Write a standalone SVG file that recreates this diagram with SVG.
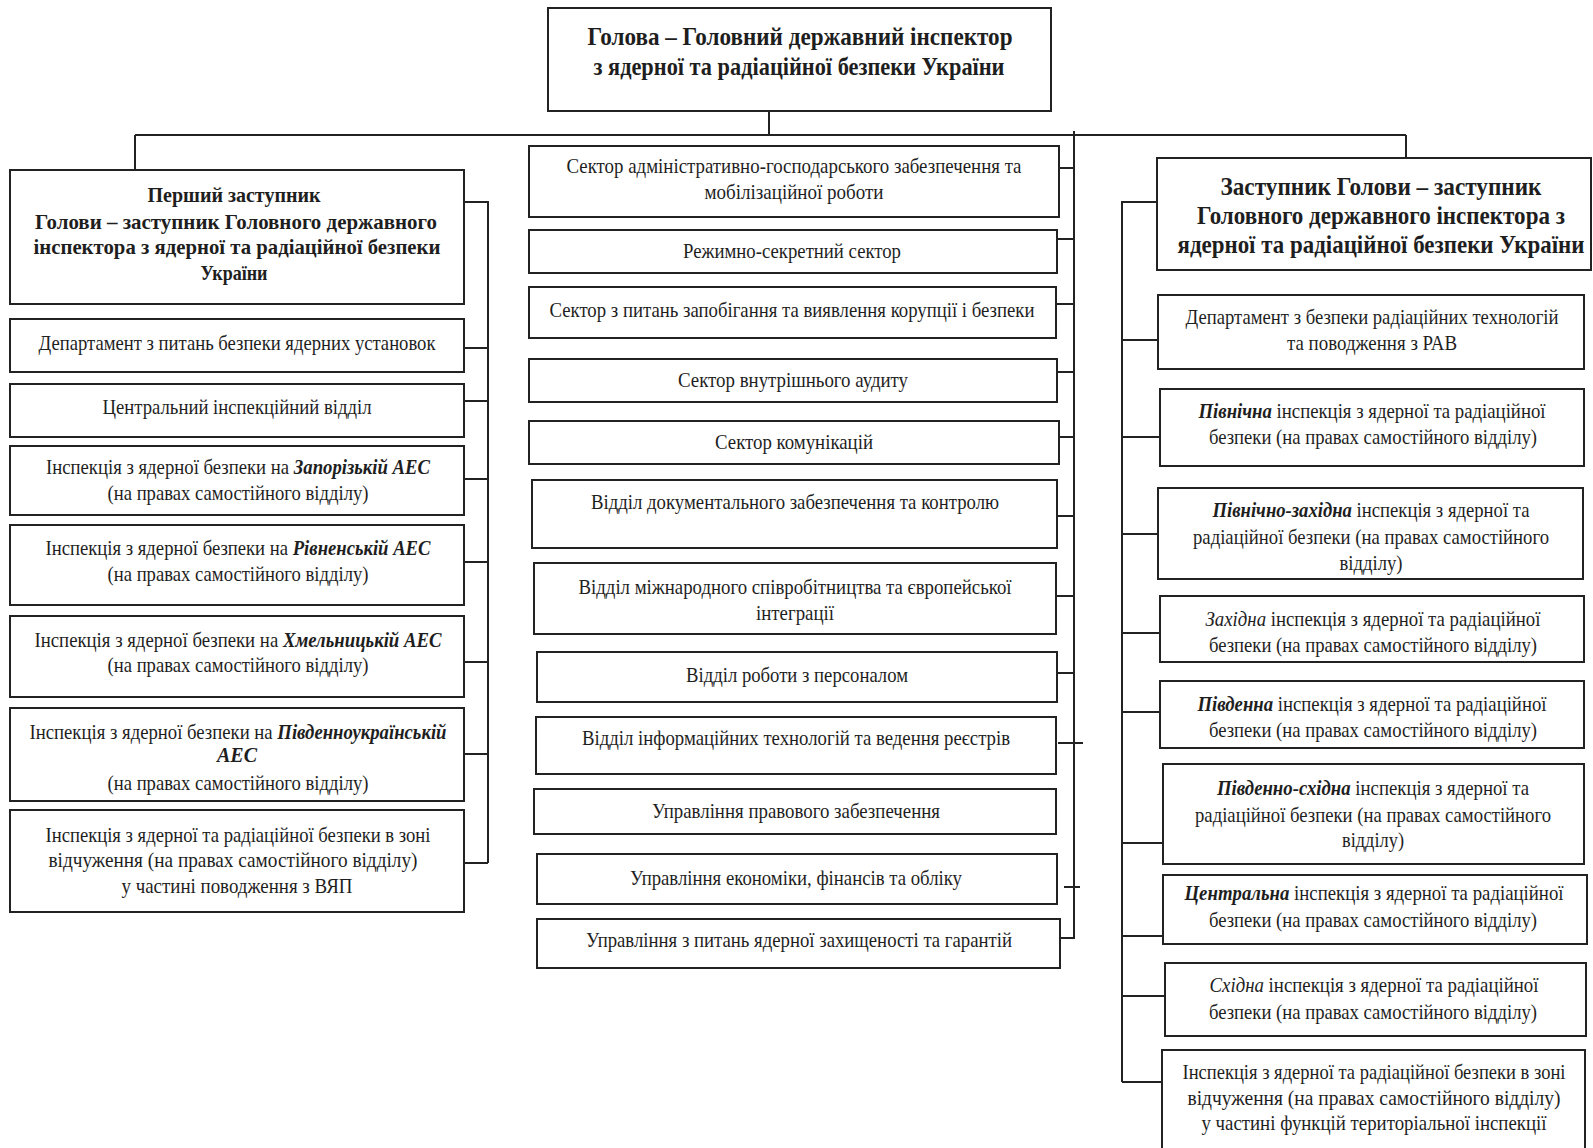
<svg xmlns="http://www.w3.org/2000/svg" width="1593" height="1148" viewBox="0 0 1593 1148">
<style>
.box{fill:#fff;stroke:#222;stroke-width:2}
.ln{fill:none;stroke:#222;stroke-width:2}
text{font-family:"Liberation Serif","Times New Roman",serif;font-size:22px;text-anchor:middle;fill:#1e1e1e}
.b{font-weight:bold}
.h{font-size:26px;font-weight:bold}
.bi{font-style:italic;font-weight:bold}
.it{font-style:italic}
</style>
<rect width="1593" height="1148" fill="#fff"/>
<g id="connectors">
<path class="ln" d="M769 111V135M135 135H1406M135 135V170M1406 135V158"/>
<path class="ln" d="M1074 131V938M1059 168H1074M1058 239H1074M1057 304H1074M1058 372H1074M1060 437H1074M1057 516H1074M1056 596H1074M1057 673H1074M1058 743H1083M1064 887H1080M1060 938H1075"/>
<path class="ln" d="M464 202H488V863M464 348H488M464 401H488M464 479H488M464 562H488M464 662H488M464 754H488M464 863H488"/>
<path class="ln" d="M1157 202H1122V1082M1122 340H1158M1122 437H1160M1122 534H1158M1122 633H1160M1122 712H1160M1122 843H1163M1122 936H1163M1122 996H1165M1122 1082H1162"/>
</g>
<g id="head">
<rect class="box" x="548" y="8" width="503" height="103"/>
<text class="h" x="800" y="45" textLength="425" lengthAdjust="spacingAndGlyphs">Голова – Головний державний інспектор</text>
<text class="h" x="799" y="75" textLength="411" lengthAdjust="spacingAndGlyphs">з ядерної та радіаційної безпеки України</text>
</g>
<g id="first-deputy">
<rect class="box" x="10" y="170" width="454" height="134"/>
<text class="b" x="234" y="202" textLength="173" lengthAdjust="spacingAndGlyphs">Перший заступник</text>
<text class="b" x="236" y="229" textLength="402" lengthAdjust="spacingAndGlyphs">Голови – заступник Головного державного</text>
<text class="b" x="237" y="254" textLength="407" lengthAdjust="spacingAndGlyphs">інспектора з ядерної та радіаційної безпеки</text>
<text class="b" x="234" y="280" textLength="67" lengthAdjust="spacingAndGlyphs">України</text>
</g>
<g id="l1">
<rect class="box" x="10" y="319" width="454" height="53"/>
<text x="237" y="350" textLength="397" lengthAdjust="spacingAndGlyphs">Департамент з питань безпеки ядерних установок</text>
</g>
<g id="l2">
<rect class="box" x="10" y="384" width="454" height="53"/>
<text x="237" y="414" textLength="269" lengthAdjust="spacingAndGlyphs">Центральний інспекційний відділ</text>
</g>
<g id="l3">
<rect class="box" x="10" y="446" width="454" height="69"/>
<text x="238" y="474" textLength="384" lengthAdjust="spacingAndGlyphs">Інспекція з ядерної безпеки на <tspan class="bi">Запорізькій АЕС</tspan></text>
<text x="238" y="500" textLength="261" lengthAdjust="spacingAndGlyphs">(на правах самостійного відділу)</text>
</g>
<g id="l4">
<rect class="box" x="10" y="525" width="454" height="80"/>
<text x="238" y="555" textLength="385" lengthAdjust="spacingAndGlyphs">Інспекція з ядерної безпеки на <tspan class="bi">Рівненській АЕС</tspan></text>
<text x="238" y="581" textLength="261" lengthAdjust="spacingAndGlyphs">(на правах самостійного відділу)</text>
</g>
<g id="l5">
<rect class="box" x="10" y="616" width="454" height="81"/>
<text x="238" y="647" textLength="407" lengthAdjust="spacingAndGlyphs">Інспекція з ядерної безпеки на <tspan class="bi">Хмельницькій АЕС</tspan></text>
<text x="238" y="672" textLength="261" lengthAdjust="spacingAndGlyphs">(на правах самостійного відділу)</text>
</g>
<g id="l6">
<rect class="box" x="10" y="708" width="454" height="93"/>
<text x="238" y="739" textLength="417" lengthAdjust="spacingAndGlyphs">Інспекція з ядерної безпеки на <tspan class="bi">Південноукраїнській</tspan></text>
<text class="bi" x="237" y="762" textLength="40" lengthAdjust="spacingAndGlyphs">АЕС</text>
<text x="238" y="790" textLength="261" lengthAdjust="spacingAndGlyphs">(на правах самостійного відділу)</text>
</g>
<g id="l7">
<rect class="box" x="10" y="810" width="454" height="102"/>
<text x="238" y="842" textLength="385" lengthAdjust="spacingAndGlyphs">Інспекція з ядерної та радіаційної безпеки в зоні</text>
<text x="233" y="867" textLength="369" lengthAdjust="spacingAndGlyphs">відчуження (на правах самостійного відділу)</text>
<text x="237" y="893" textLength="231" lengthAdjust="spacingAndGlyphs">у частині поводження з ВЯП</text>
</g>
<g id="m1">
<rect class="box" x="529" y="146" width="530" height="71"/>
<text x="794" y="173" textLength="455" lengthAdjust="spacingAndGlyphs">Сектор адміністративно-господарського забезпечення та</text>
<text x="794" y="199" textLength="179" lengthAdjust="spacingAndGlyphs">мобілізаційної роботи</text>
</g>
<g id="m2">
<rect class="box" x="529" y="230" width="528" height="43"/>
<text x="792" y="258" textLength="218" lengthAdjust="spacingAndGlyphs">Режимно-секретний сектор</text>
</g>
<g id="m3">
<rect class="box" x="529" y="287" width="527" height="51"/>
<text x="792" y="317" textLength="485" lengthAdjust="spacingAndGlyphs">Сектор з питань запобігання та виявлення корупції і безпеки</text>
</g>
<g id="m4">
<rect class="box" x="529" y="359" width="528" height="43"/>
<text x="793" y="387" textLength="230" lengthAdjust="spacingAndGlyphs">Сектор внутрішнього аудиту</text>
</g>
<g id="m5">
<rect class="box" x="529" y="421" width="530" height="43"/>
<text x="794" y="449" textLength="158" lengthAdjust="spacingAndGlyphs">Сектор комунікацій</text>
</g>
<g id="m6">
<rect class="box" x="532" y="480" width="525" height="68"/>
<text x="795" y="509" textLength="408" lengthAdjust="spacingAndGlyphs">Відділ документального забезпечення та контролю</text>
</g>
<g id="m7">
<rect class="box" x="534" y="563" width="522" height="71"/>
<text x="795" y="594" textLength="433" lengthAdjust="spacingAndGlyphs">Відділ міжнародного співробітництва та європейської</text>
<text x="795" y="620" textLength="78" lengthAdjust="spacingAndGlyphs">інтеграції</text>
</g>
<g id="m8">
<rect class="box" x="537" y="652" width="520" height="50"/>
<text x="797" y="682" textLength="222" lengthAdjust="spacingAndGlyphs">Відділ роботи з персоналом</text>
</g>
<g id="m9">
<rect class="box" x="536" y="717" width="520" height="57"/>
<text x="796" y="745" textLength="428" lengthAdjust="spacingAndGlyphs">Відділ інформаційних технологій та ведення реєстрів</text>
</g>
<g id="m10">
<rect class="box" x="534" y="789" width="522" height="45"/>
<text x="796" y="818" textLength="288" lengthAdjust="spacingAndGlyphs">Управління правового забезпечення</text>
</g>
<g id="m11">
<rect class="box" x="537" y="854" width="520" height="50"/>
<text x="796" y="885" textLength="332" lengthAdjust="spacingAndGlyphs">Управління економіки, фінансів та обліку</text>
</g>
<g id="m12">
<rect class="box" x="537" y="919" width="523" height="49"/>
<text x="799" y="947" textLength="426" lengthAdjust="spacingAndGlyphs">Управління з питань ядерної захищеності та гарантій</text>
</g>
<g id="deputy">
<rect class="box" x="1157" y="158" width="434" height="112"/>
<text class="h" x="1381" y="195" textLength="321" lengthAdjust="spacingAndGlyphs">Заступник Голови – заступник</text>
<text class="h" x="1381" y="224" textLength="368" lengthAdjust="spacingAndGlyphs">Головного державного інспектора з</text>
<text class="h" x="1381" y="253" textLength="407" lengthAdjust="spacingAndGlyphs">ядерної та радіаційної безпеки України</text>
</g>
<g id="r1">
<rect class="box" x="1158" y="295" width="426" height="74"/>
<text x="1372" y="324" textLength="373" lengthAdjust="spacingAndGlyphs">Департамент з безпеки радіаційних технологій</text>
<text x="1372" y="350" textLength="170" lengthAdjust="spacingAndGlyphs">та поводження з РАВ</text>
</g>
<g id="r2">
<rect class="box" x="1160" y="389" width="424" height="77"/>
<text x="1372" y="418" textLength="347" lengthAdjust="spacingAndGlyphs"><tspan class="bi">Північна</tspan> інспекція з ядерної та радіаційної</text>
<text x="1373" y="444" textLength="328" lengthAdjust="spacingAndGlyphs">безпеки (на правах самостійного відділу)</text>
</g>
<g id="r3">
<rect class="box" x="1158" y="488" width="425" height="91"/>
<text x="1371" y="517" textLength="317" lengthAdjust="spacingAndGlyphs"><tspan class="bi">Північно-західна</tspan> інспекція з ядерної та</text>
<text x="1371" y="544" textLength="356" lengthAdjust="spacingAndGlyphs">радіаційної безпеки (на правах самостійного</text>
<text x="1371" y="570" textLength="63" lengthAdjust="spacingAndGlyphs">відділу)</text>
</g>
<g id="r4">
<rect class="box" x="1160" y="596" width="424" height="66"/>
<text x="1373" y="626" textLength="335" lengthAdjust="spacingAndGlyphs"><tspan class="it">Західна</tspan> інспекція з ядерної та радіаційної</text>
<text x="1373" y="652" textLength="328" lengthAdjust="spacingAndGlyphs">безпеки (на правах самостійного відділу)</text>
</g>
<g id="r5">
<rect class="box" x="1160" y="681" width="424" height="67"/>
<text x="1372" y="711" textLength="349" lengthAdjust="spacingAndGlyphs"><tspan class="bi">Південна</tspan> інспекція з ядерної та радіаційної</text>
<text x="1373" y="737" textLength="328" lengthAdjust="spacingAndGlyphs">безпеки (на правах самостійного відділу)</text>
</g>
<g id="r6">
<rect class="box" x="1163" y="764" width="421" height="100"/>
<text x="1373" y="795" textLength="312" lengthAdjust="spacingAndGlyphs"><tspan class="bi">Південно-східна</tspan> інспекція з ядерної та</text>
<text x="1373" y="822" textLength="356" lengthAdjust="spacingAndGlyphs">радіаційної безпеки (на правах самостійного</text>
<text x="1373" y="847" textLength="62" lengthAdjust="spacingAndGlyphs">відділу)</text>
</g>
<g id="r7">
<rect class="box" x="1163" y="875" width="424" height="69"/>
<text x="1374" y="900" textLength="379" lengthAdjust="spacingAndGlyphs"><tspan class="bi">Центральна</tspan> інспекція з ядерної та радіаційної</text>
<text x="1373" y="927" textLength="328" lengthAdjust="spacingAndGlyphs">безпеки (на правах самостійного відділу)</text>
</g>
<g id="r8">
<rect class="box" x="1165" y="963" width="421" height="73"/>
<text x="1374" y="992" textLength="329" lengthAdjust="spacingAndGlyphs"><tspan class="it">Східна</tspan> інспекція з ядерної та радіаційної</text>
<text x="1373" y="1019" textLength="328" lengthAdjust="spacingAndGlyphs">безпеки (на правах самостійного відділу)</text>
</g>
<g id="r9">
<rect class="box" x="1162" y="1050" width="423" height="110"/>
<text x="1374" y="1079" textLength="383" lengthAdjust="spacingAndGlyphs">Інспекція з ядерної та радіаційної безпеки в зоні</text>
<text x="1374" y="1105" textLength="373" lengthAdjust="spacingAndGlyphs">відчуження (на правах самостійного відділу)</text>
<text x="1374" y="1130" textLength="345" lengthAdjust="spacingAndGlyphs">у частині функцій територіальної інспекції</text>
</g>
</svg>
